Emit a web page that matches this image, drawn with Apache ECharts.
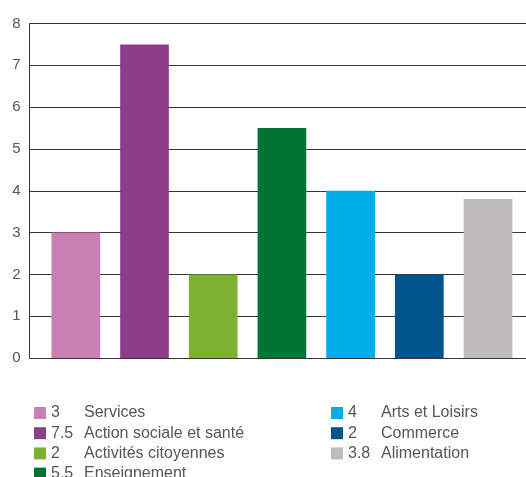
<!DOCTYPE html>
<html><head><meta charset="utf-8">
<script src="https://cdn.jsdelivr.net/npm/echarts@6/dist/echarts.min.js"></script>
<style>html,body{margin:0;padding:0;background:#fff}#c{width:526px;height:477px}</style>
</head><body><div id="c"></div>
<script>
const categories = ['Services','Action sociale et santé','Activités citoyennes','Enseignement','Arts et Loisirs','Commerce','Alimentation'];
const values = [3, 7.5, 2, 5.5, 4, 2, 3.8];
const valueLabels = ['3','7.5','2','5.5','4','2','3.8'];
const colors = ['#c880b3','#8e3e88','#7db133','#007635','#00ade6','#00548c','#bdbcbb'];
const yTicks = [0,1,2,3,4,5,6,7,8];

const textColor = '#5b5450';
const font = 'Liberation Sans, Arial, sans-serif';

const series = categories.map((name, i) => ({
  name: name,
  type: 'bar',
  barWidth: 48.7,
  barGap: '-100%',
  itemStyle: { color: colors[i] },
  data: [[i, values[i]]],
  animation: false
}));

function legendFmt(name) {
  const i = categories.indexOf(name);
  return '{v|' + valueLabels[i] + '}{n|' + name + '}';
}
const legendText = {
  color: textColor, fontFamily: font, fontSize: 16,
  rich: {
    v: { width: 33, color: textColor, fontFamily: font, fontSize: 16, height: 12, lineHeight: 12 },
    n: { color: textColor, fontFamily: font, fontSize: 16, height: 12, lineHeight: 12 }
  }
};

const chart = echarts.init(document.getElementById('c'));
chart.setOption({
  animation: false,
  color: colors,
  grid: { left: 29.5, right: 0, top: 23.5, bottom: 119, containLabel: false },
  xAxis: {
    type: 'value', min: -0.674, max: 6.553,
    show: false
  },
  yAxis: {
    type: 'value', min: yTicks[0], max: yTicks[yTicks.length-1], interval: 1,
    axisLine: { show: true, onZero: false, lineStyle: { color: '#3e3530', width: 1 } },
    axisTick: { show: false },
    axisLabel: { color: textColor, fontFamily: font, fontSize: 15, margin: 9 },
    splitLine: { show: true, lineStyle: { color: '#3e3530', width: 1 } }
  },
  legend: [
    {
      data: categories.slice(0,4),
      orient: 'vertical', left: 29, top: 400, height: 150,
      icon: 'rect', itemWidth: 12, itemHeight: 12, itemGap: 4.2,
      selectedMode: false, formatter: legendFmt, textStyle: legendText
    },
    {
      data: categories.slice(4),
      orient: 'vertical', left: 326, top: 400, height: 150,
      icon: 'rect', itemWidth: 12, itemHeight: 12, itemGap: 4.2,
      selectedMode: false, formatter: legendFmt, textStyle: legendText
    }
  ],
  series: series
});
</script></body></html>
